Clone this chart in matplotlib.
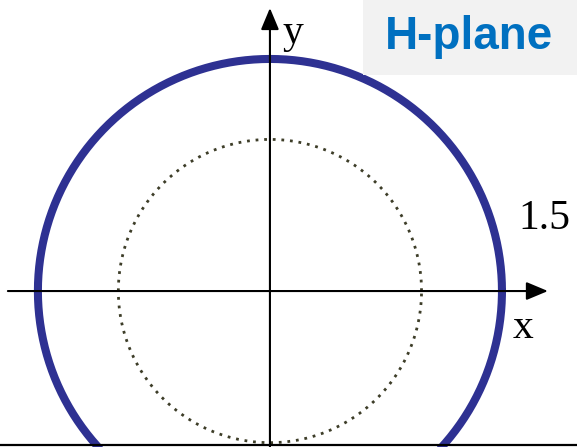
import matplotlib
matplotlib.use("Agg")
import matplotlib.pyplot as plt
import numpy as np
from matplotlib.patches import Rectangle

# pattern radii (data units) and labels
pattern_radius = 1.5      # blue H-plane pattern
ref_radius = 0.98         # dotted reference circle
radius_label = "1.5"
axis_labels = ["x", "y"]
title = "H-plane"

_BLUE = "#2e3192"
_DOT = "#3d3d28"
_TITLE = "#0070c0"
_BOX = "#f2f2f2"

fig = plt.figure(figsize=(5.77, 4.47), dpi=100, facecolor="white")
ax = fig.add_axes([0, 0, 1, 1])
ax.set_xlim(-1.745, 1.985)
ax.set_ylim(-1.008, 1.881)
ax.axis("off")

t = np.linspace(0, 2 * np.pi, 721)

# dotted reference circle
ax.plot(ref_radius * np.cos(t), ref_radius * np.sin(t), color=_DOT,
        lw=2.0, linestyle=(0, (1, 2.1)), zorder=2)

# pattern
ax.plot(pattern_radius * np.cos(t), pattern_radius * np.sin(t),
        color=_BLUE, lw=5.8, zorder=3, solid_capstyle="round")

# axes with arrow heads
arrow = dict(arrowstyle="-|>,head_length=0.55,head_width=0.23",
             mutation_scale=24, lw=1.5, color="black", shrinkA=0, shrinkB=0)
ax.annotate("", xy=(1.797, 0), xytext=(-1.694, 0), arrowprops=arrow, zorder=4)
ax.annotate("", xy=(0, 1.829), xytext=(0, -1.05), arrowprops=arrow, zorder=4)

# bottom rule
ax.axhline(-0.995, color="black", lw=1.6, zorder=4)

serif = ["Liberation Serif", "DejaVu Serif"]
ax.text(1.636, -0.239, axis_labels[0], family=serif, fontsize=30,
        ha="center", va="center")
ax.text(0.149, 1.668, axis_labels[1], family=serif, fontsize=30,
        ha="center", va="center")
ax.text(1.771, 0.465, radius_label, family=serif, fontsize=30,
        ha="center", va="center")

# title box
fig.patches.append(Rectangle((0.629, 0.832), 0.371, 0.168,
                             transform=fig.transFigure, facecolor=_BOX,
                             edgecolor="none", zorder=5))
fig.text(0.813, 0.917, title, color=_TITLE, fontsize=33, fontweight="bold",
         family=["Liberation Sans", "DejaVu Sans"], ha="center", va="center",
         zorder=6)

fig.savefig("out.png", dpi=100, facecolor="white")
